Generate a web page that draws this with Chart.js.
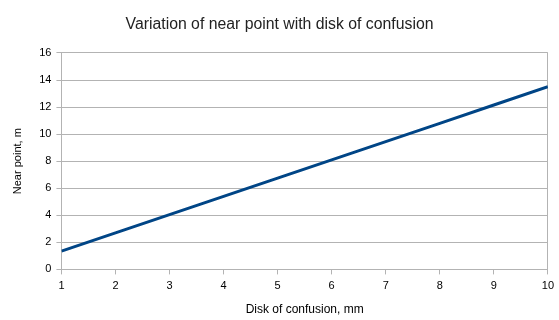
<!DOCTYPE html>
<html>
<head>
<meta charset="utf-8">
<script src="https://cdn.jsdelivr.net/npm/chart.js@4/dist/chart.umd.min.js"></script>
<style>
html,body{margin:0;padding:0;background:#fff;}
#wrap{width:559px;height:320px;position:relative;}
</style>
</head>
<body>
<div id="wrap"><canvas id="c" width="559" height="320"></canvas></div>
<script>
const diskOfConfusion = [1, 2, 3, 4, 5, 6, 7, 8, 9, 10];
const nearPoint = [1.35, 2.7, 4.05, 5.4, 6.75, 8.1, 9.45, 10.8, 12.15, 13.5];
const chartTitle = 'Variation of near point with disk of confusion';
const xTitle = 'Disk of confusion, mm';
const yTitle = 'Near point, m';

const gridCol = '#b3b3b3';
const font = 'Liberation Sans, Arial, sans-serif';

new Chart(document.getElementById('c'), {
  type: 'line',
  data: {
    datasets: [{
      data: diskOfConfusion.map((x, i) => ({x: x, y: nearPoint[i]})),
      borderColor: '#004586',
      borderWidth: 3,
      pointRadius: 0,
      tension: 0,
      fill: false
    }]
  },
  options: {
    responsive: false,
    animation: false,
    devicePixelRatio: 1,
    layout: {padding: {left: 3, right: 3, top: 0, bottom: 3}},
    plugins: {
      legend: {display: false},
      tooltip: {enabled: false},
      title: {
        display: true,
        text: chartTitle,
        color: '#222',
        font: {family: font, size: 15.8, weight: 'normal'},
        padding: {top: 15, bottom: 19}
      }
    },
    scales: {
      x: {
        type: 'linear',
        min: 1, max: 10,
        ticks: {stepSize: 1, color: '#000', font: {family: font, size: 11}, padding: 5},
        grid: {
          color: ctx => (ctx.tick && ctx.tick.value === 10) ? gridCol : 'rgba(0,0,0,0)',
          tickColor: gridCol,
          tickLength: 5,
          lineWidth: 1
        },
        border: {display: true, color: gridCol, width: 1},
        title: {display: true, text: xTitle, color: '#000', font: {family: font, size: 12}, padding: {top: 5, bottom: 0}}
      },
      y: {
        min: 0, max: 16,
        ticks: {stepSize: 2, color: '#000', font: {family: font, size: 11}, padding: 5},
        grid: {color: gridCol, tickColor: gridCol, tickLength: 5, lineWidth: 1},
        border: {display: true, color: gridCol, width: 1},
        title: {display: true, text: yTitle, color: '#000', font: {family: font, size: 11}, padding: {top: 8, bottom: 10}}
      }
    }
  }
});
</script>
</body>
</html>
